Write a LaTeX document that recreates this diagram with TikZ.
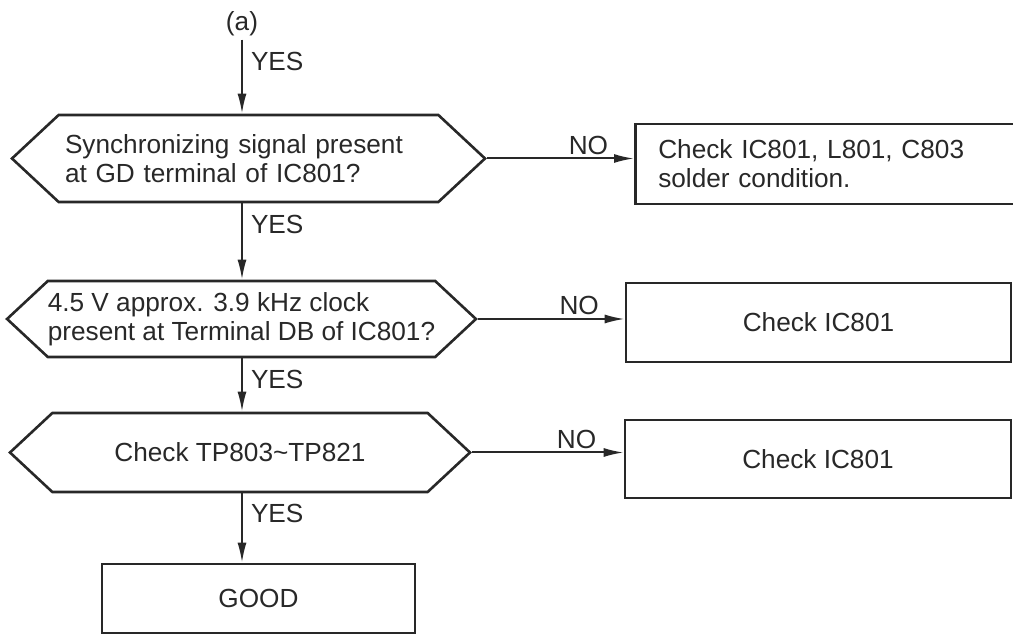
\documentclass[tikz,border=0pt]{standalone}
\usepackage{fontspec}
\setmainfont{Liberation Sans}
\usetikzlibrary{arrows.meta,shapes.symbols}
\definecolor{scanink}{RGB}{40,40,40}
\tikzset{
  decision/.style={signal,signal to=west and east,signal pointer angle=86,draw=scanink,line width=1.3pt,inner sep=0pt,align=left,text=scanink,font=\fontsize{13.1}{14.5}\selectfont},
  action/.style={rectangle,draw=scanink,line width=1.3pt,inner sep=0pt,align=center,text=scanink,font=\fontsize{13.1}{14.5}\selectfont},
  arr/.style={-{Latex[length=10pt,width=4.5pt]},line width=1pt,draw=scanink},
  flowlabel/.style={inner sep=1.5pt,text=scanink,font=\fontsize{13.1}{14.5}\selectfont},
}

\begin{document}
\begin{tikzpicture}[x=0.5pt,y=-0.5pt]
  \useasboundingbox (0,0) rectangle (1013,635);
  \clip (0,0) rectangle (1013,635);

  \node[flowlabel] (entry) at (242,24) {(a)};

  \node[decision,minimum width=236.5pt,minimum height=43.5pt,text width=183.5pt] (sync) at (248.5,158.5) {Synchronizing signal present\\at GD terminal of IC801?};
  \node[decision,minimum width=231.5pt,minimum height=38pt] (clock) at (241.5,319) {4.5 V approx. 3.9 kHz clock\\present at Terminal DB of IC801?};
  \node[decision,minimum width=230pt,minimum height=39.5pt,align=center] (tpcheck) at (240,452.5) {Check TP803\textasciitilde TP821};
  \node[action,minimum width=156.5pt,minimum height=34.5pt] (good) at (258.5,598.5) {GOOD};

  \node[action,anchor=west,align=left,text width=168pt,inner xsep=11.5pt,minimum height=40pt] (solder) at (634,164) {Check IC801, L801, C803\\solder condition.};
  \node[action,minimum width=192.5pt,minimum height=39.5pt] (icone) at (818.5,322.5) {Check IC801};
  \node[action,minimum width=193pt,minimum height=39pt] (ictwo) at (818,459) {Check IC801};

  % yes path
  \draw[arr] (entry.south) -- (entry.south |- sync.north) node[flowlabel,right,pos=.3,xshift=2.5pt] {YES};
  \draw[arr] (sync.south -| entry) -- (clock.north -| entry) node[flowlabel,right,pos=.28,xshift=2.5pt] {YES};
  \draw[arr] (clock.south -| entry) -- (tpcheck.north -| entry) node[flowlabel,right,pos=.4,xshift=2.5pt] {YES};
  \draw[arr] (tpcheck.south -| entry) -- (good.north -| entry) node[flowlabel,right,pos=.29,xshift=2.5pt] {YES};

  % no branches
  \draw[arr] (sync.east) -- (sync.east -| solder.west) node[flowlabel,above,pos=.69] {NO};
  \draw[arr] (clock.east) -- (clock.east -| icone.west) node[flowlabel,above,pos=.69] {NO};
  \draw[arr] (tpcheck.east) -- (tpcheck.east -| ictwo.west) node[flowlabel,above,pos=.69] {NO};
\end{tikzpicture}
\end{document}
